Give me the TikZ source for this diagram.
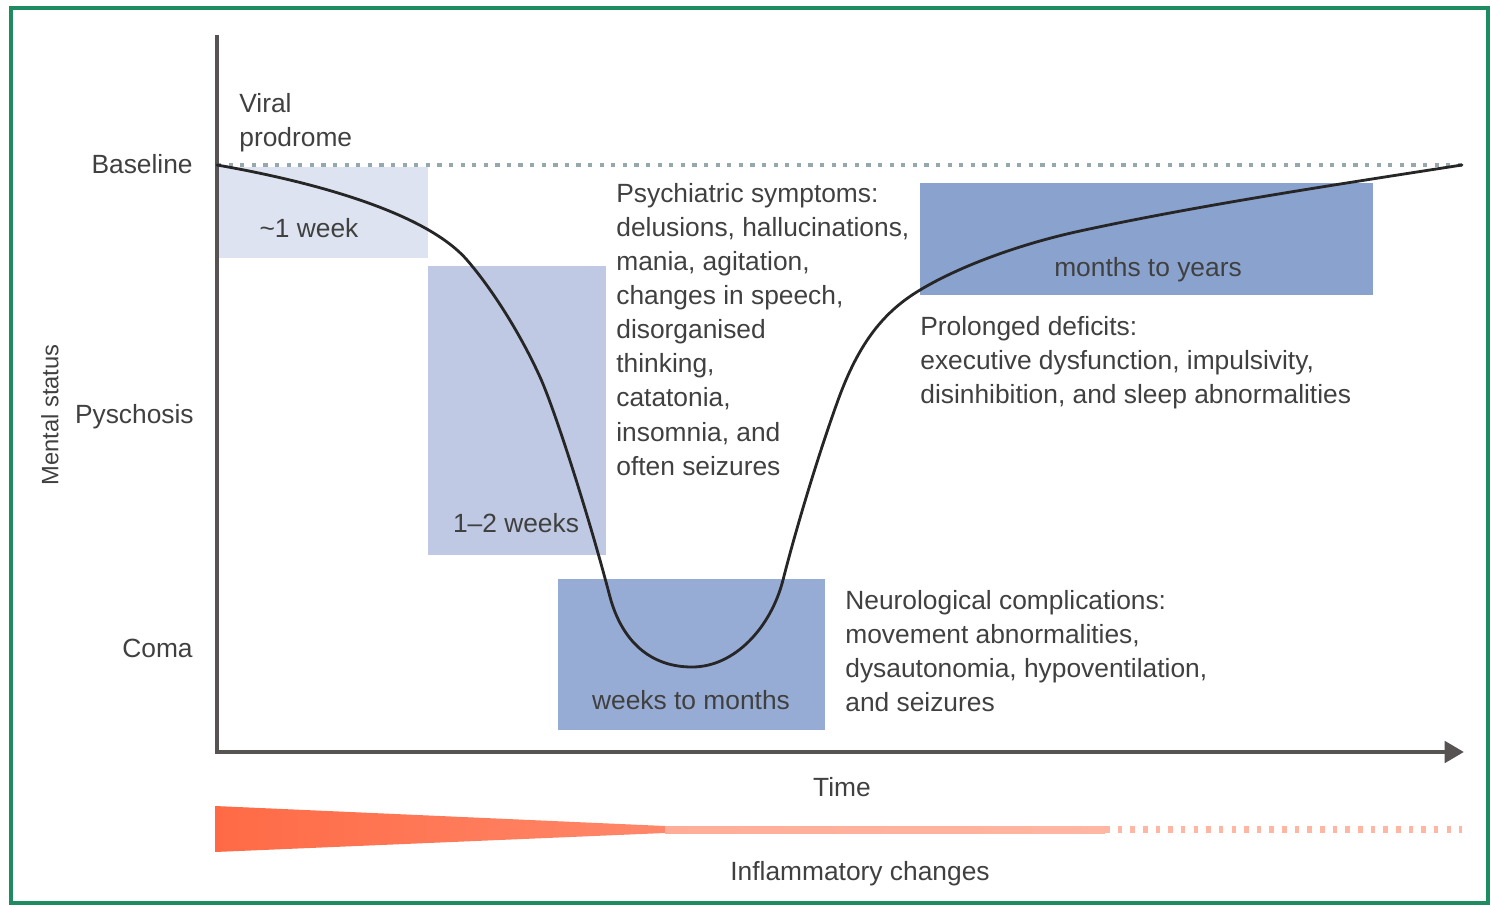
\documentclass[tikz,border=0pt]{standalone}
\usepackage{fontspec}
\setmainfont{Liberation Sans}
\usetikzlibrary{arrows.meta}
\definecolor{framegreen}{HTML}{1E8C60}
\definecolor{txt}{HTML}{404040}
\definecolor{axisgray}{HTML}{575353}
\definecolor{dotgray}{HTML}{94A8AD}
\definecolor{phaseA}{HTML}{DDE3F0}
\definecolor{phaseB}{HTML}{BFC9E3}
\definecolor{phaseC}{HTML}{97ACD5}
\definecolor{phaseD}{HTML}{89A2CE}
\definecolor{inflam}{HTML}{FF6A45}
\definecolor{inflamlight}{HTML}{FFB6A2}
\tikzset{
	lbl/.style={text=txt, inner sep=0pt, font=\fontsize{15pt}{19.4pt}\selectfont},
	axisline/.style={axisgray, line width=2.6pt, line join=miter},
	course/.style={black!85, line width=1.6pt, line cap=round}
}
\def\phasebox[#1](#2)(#3){\fill[#1] (#2) rectangle (#3);}

\begin{document}
\begin{tikzpicture}[x=0.02cm, y=-0.02cm]
				%%%%% START %%%%%
				\useasboundingbox (0,0) rectangle (1491,906);
				\draw[framegreen, line width=1.8pt] (11,8) rectangle (1488,903);
				
				\coordinate (ytop) at (217,35);
				\coordinate (O) at (217,752);
				\coordinate (xend) at (1464,752);
				\coordinate (base0) at (217,165);
				\coordinate (base1) at (1462,165);
				
				\phasebox[phaseA](217,167)(428,258);
				\phasebox[phaseB](428,266)(606,555);
				\phasebox[phaseC](558,579)(825,730);
				\phasebox[phaseD](920,183)(1373,295);
				
				\draw[dotgray, line width=2pt, dash pattern=on 2.4pt off 4.2pt] (base0) -- (base1);
				\draw[axisline, -{Triangle[length=11pt,width=12pt]}] (ytop) -- (O) -- (xend);
				
				% course of the illness
				\draw[course] (base0) .. controls (320,183) and (427,214) .. (467,260)
					.. controls (492,289) and (520,333) .. (540,377)
					.. controls (555,410) and (590,520) .. (610,597)
					.. controls (622,641) and (650,667) .. (692,667)
					.. controls (735,667) and (771,627) .. (783,580)
					.. controls (797,525) and (819,453) .. (837,403)
					.. controls (859,341) and (885,311) .. (920,290)
					.. controls (960,266) and (1020,244) .. (1080,231)
					.. controls (1200,205) and (1340,184) .. (base1);
				
				\node[lbl, anchor=base east] (baseline) at (193,173) {Baseline};
				\node[lbl, anchor=base east] (psychosis) at (194,423) {Pyschosis};
				\node[lbl, anchor=base east] (coma) at (193,657) {Coma};
				\node[lbl, rotate=90, font=\fontsize{13.5pt}{16pt}\selectfont] (mental) at (50,415) {Mental status};
				
				\node[lbl, anchor=north west, align=left] (viral) at (239,93) {Viral\\prodrome};
				\node[lbl, anchor=base] (week) at (309,237) {\textasciitilde 1 week};
				\node[lbl, anchor=base] (weeks) at (516,532) {1–2 weeks};
				\node[lbl, anchor=base] (wtm) at (691,709) {weeks to months};
				\node[lbl, anchor=base] (mty) at (1148,276) {months to years};
				
				\node[lbl, anchor=north west, align=left] (psych) at (616,183) {Psychiatric symptoms:\\delusions, hallucinations,\\mania, agitation,\\changes in speech,\\disorganised\\thinking,\\catatonia,\\insomnia, and\\often seizures};
				\node[lbl, anchor=north west, align=left] (deficits) at (920,316) {Prolonged deficits:\\executive dysfunction, impulsivity,\\disinhibition, and sleep abnormalities};
				\node[lbl, anchor=north west, align=left] (neuro) at (845,590) {Neurological complications:\\movement abnormalities,\\dysautonomia, hypoventilation,\\and seizures};
				
				\node[lbl, anchor=base] (time) at (842,796) {Time};
				
				\coordinate (inf0) at (1105,829.5);
				\coordinate (inf1) at (1462,829.5);
				\shade[left color=inflam, right color=inflam!80!white] (215,806) -- (665,826) -- (665,833) -- (215,852) -- cycle;
				\shade[left color=inflam!55!white, right color=inflamlight] (665,826) rectangle (1105,833);
				\draw[inflamlight, line width=3.8pt, dash pattern=on 2.6pt off 4.6pt] (inf0) -- (inf1);
				\node[lbl, anchor=base] (inflamlbl) at (860,880) {Inflammatory changes};
				%%%%% END %%%%%
\end{tikzpicture}
\end{document}
